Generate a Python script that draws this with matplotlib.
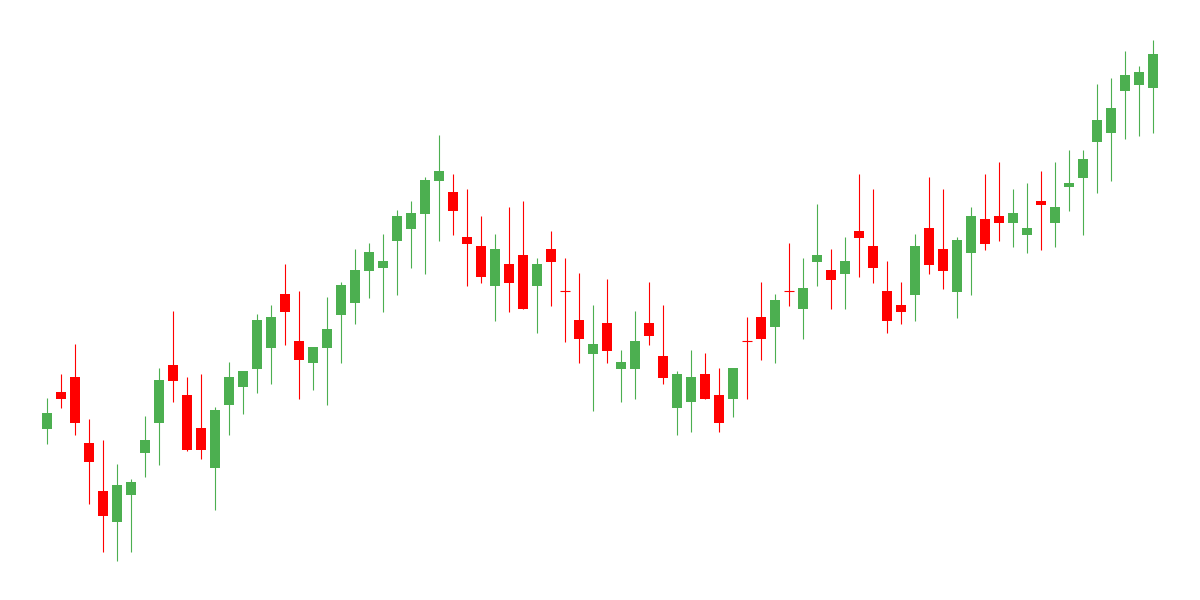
import matplotlib
matplotlib.use("Agg")
import matplotlib.pyplot as plt
import numpy as np

opens = [171.3, 208, 223, 157, 109, 78.3, 105.3, 147.3, 177.3, 235,
         205, 172, 132.3, 195.3, 213.3, 231.3, 252.3, 306, 259, 237.3,
         252.3, 285.3, 297.3, 329.3, 332.3, 359.3, 371.3, 386.3, 419.3, 408,
         363, 354, 314.3, 336, 345, 314.3, 351, 308.9, 280, 246.3,
         277, 231.3, 231.3, 277, 244, 192.3, 198.3, 226, 205, 201.3,
         259.2, 283, 273.3, 308.9, 291.3, 338.3, 330, 326.3, 369, 354,
         309, 295, 305.3, 372, 351, 308.3, 347.3, 381, 384, 377.3,
         365.3, 399, 377.3, 413.3, 422.3, 458.3, 467.3, 509.3, 515.3, 512.3]
highs = [202, 226, 256, 181, 160, 136, 121, 184, 232, 289,
         223, 226, 193, 238, 229.5, 286, 295, 336, 309, 253.5,
         303, 318, 351, 357, 366, 390, 399, 423, 465, 426,
         411, 384, 366, 393, 399, 342, 369, 342, 327, 295,
         321, 250, 289, 318, 295, 229, 250, 247, 232, 232.5,
         283, 318, 306, 357, 342, 396, 351, 363, 426, 411,
         339, 318, 366, 423, 411, 363, 393, 426, 438, 411,
         417, 429, 438, 450, 450, 516, 522, 549, 534, 560]
lows = [156, 192.3, 165.3, 96.3, 48.3, 39.3, 48.3, 123.3, 135.3, 198.3,
        149, 141.3, 90.3, 165.3, 186.3, 207.3, 216.3, 255.3, 201.3, 210.3,
        195.3, 237.3, 276.3, 302.3, 288.3, 305.3, 332.3, 326.3, 359.3, 365.3,
        314.3, 317.3, 279.3, 288.3, 291, 267.3, 294.3, 258.3, 237.3, 189.3,
        237.3, 198.3, 201.3, 255.3, 216.3, 165.3, 168.3, 201, 168.3, 183.3,
        201.3, 240.3, 237.3, 294.3, 261.3, 314.3, 291.3, 291.3, 323.3, 317.3,
        267.3, 276.3, 279.3, 326.3, 311.3, 282.3, 305.3, 350.3, 359.3, 353.3,
        347.3, 350.3, 353.3, 389.3, 365.3, 407.3, 419.3, 461.3, 464.3, 467.3]
closes = [187, 201, 177.3, 138.3, 84.3, 115, 118, 160, 220, 219.3,
          150.3, 150.3, 190, 223, 229, 280, 283, 288.3, 240.3, 253,
          271, 315, 330, 348, 339, 384, 387, 420, 429, 389.3,
          356.3, 323.3, 351, 317.3, 291.3, 336, 338.3, 308.7, 261.3, 256,
          249.3, 238, 259, 264.3, 222.3, 226, 223, 201.3, 177.3, 232,
          259, 261.3, 300, 308.7, 312, 345, 320.3, 339, 362.3, 332.3,
          279.3, 288.3, 354, 335.3, 329.3, 360, 384, 356.3, 377.3, 387,
          372, 395.3, 393, 417, 441, 480, 492, 525, 528, 546]

UP = "#4CAF50"
DOWN = "#FF0000"

o = np.array(opens); h = np.array(highs); l = np.array(lows); c = np.array(closes)
x = np.arange(len(o))
colors = [UP if cc >= oo else DOWN for oo, cc in zip(o, c)]

fig = plt.figure(figsize=(12, 6), dpi=100)
ax = fig.add_axes([0, 0, 1, 1])
ax.vlines(x, l, h, colors=colors, linewidth=0.8, zorder=1)
bottom = np.minimum(o, c)
height = np.abs(c - o)
width = 0.78
ax.bar(x, height, width=width, bottom=bottom, color=colors, zorder=2, linewidth=0)
doji = height < 0.5
ax.hlines(o[doji], x[doji] - width / 2, x[doji] + width / 2,
          colors=[colors[i] for i in np.where(doji)[0]], linewidth=0.8, zorder=3)

ax.set_xlim(-47 / 14, (1200 - 47) / 14)
ax.set_ylim(0, 600)
ax.axis("off")
fig.savefig("out.png", dpi=100, facecolor="white")
